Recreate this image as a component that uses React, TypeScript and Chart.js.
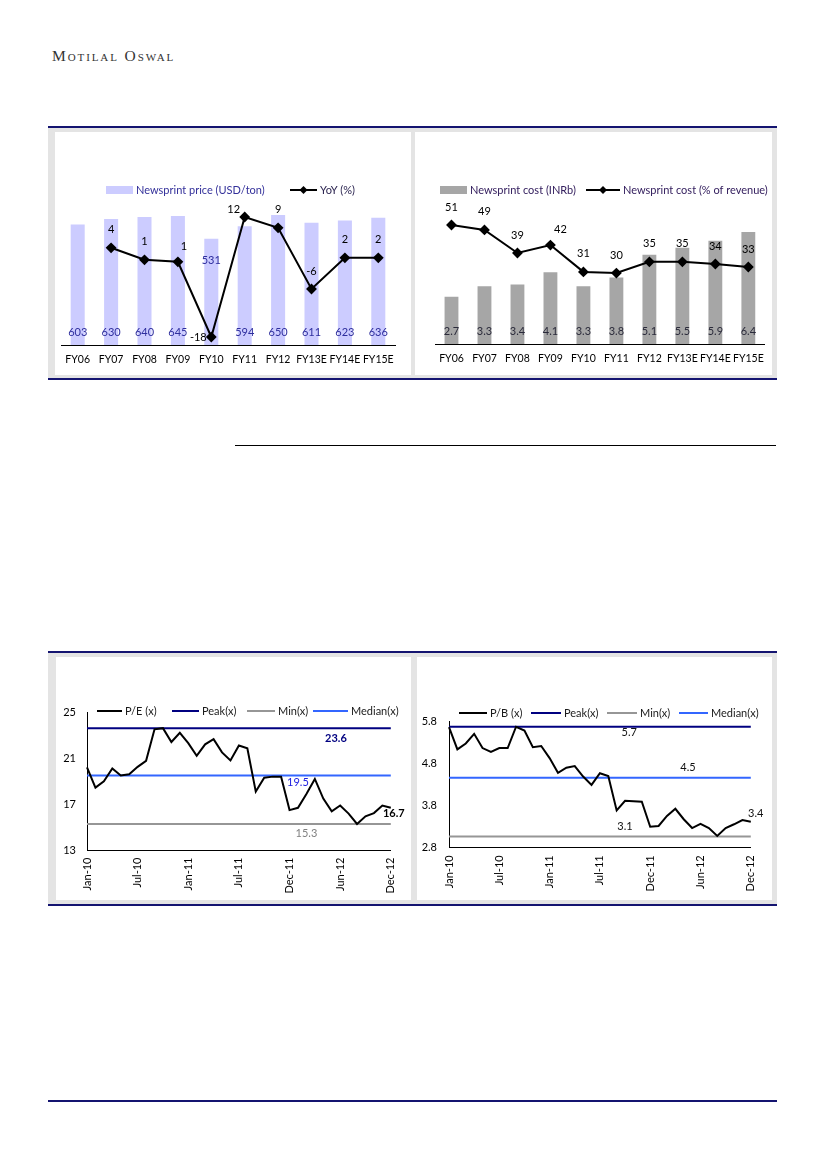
import React, { useEffect, useRef } from 'react';
import { Chart, registerables } from 'chart.js';

Chart.register(...registerables);

const FONT = 'Lato, "Open Sans", "DejaVu Sans", sans-serif';

// ---------------- Chart 1: Newsprint price ----------------
const fyCategories = ['FY06', 'FY07', 'FY08', 'FY09', 'FY10', 'FY11', 'FY12', 'FY13E', 'FY14E', 'FY15E'];
const newsprintPriceUSD = [603, 630, 640, 645, 531, 594, 650, 611, 623, 636];
const newsprintPriceYoY = [null, 4.3, 1.3, 0.8, -18, 12, 9.3, -6, 1.8, 1.8];

// ---------------- Chart 2: Newsprint cost ----------------
const newsprintCostINRb = [2.7, 3.3, 3.4, 4.1, 3.3, 3.8, 5.1, 5.5, 5.9, 6.4];
const newsprintCostPct = [51, 48.9, 39, 42.4, 30.9, 30.4, 35.2, 35.2, 34.3, 33];

// ---------------- Chart 3/4: valuation bands ----------------
const monthLabels = [
  'Jan-10', 'Feb-10', 'Mar-10', 'Apr-10', 'May-10', 'Jun-10', 'Jul-10', 'Aug-10', 'Sep-10', 'Oct-10', 'Nov-10', 'Dec-10',
  'Jan-11', 'Feb-11', 'Mar-11', 'Apr-11', 'May-11', 'Jun-11', 'Jul-11', 'Aug-11', 'Sep-11', 'Oct-11', 'Nov-11', 'Nov-11',
  'Dec-11', 'Jan-12', 'Feb-12', 'Mar-12', 'Apr-12', 'May-12', 'Jun-12', 'Jul-12', 'Aug-12', 'Sep-12', 'Oct-12', 'Nov-12',
  'Dec-12',
];
const peValues = [
  20.2, 18.45, 19.0, 20.1, 19.5, 19.6, 20.25, 20.77, 23.5, 23.6,
  22.4, 23.2, 22.3, 21.2, 22.2, 22.65, 21.5, 20.8, 22.1, 21.85,
  18.1, 19.3, 19.4, 19.4, 16.5, 16.7, 17.9, 19.2, 17.5, 16.4,
  16.9, 16.2, 15.3, 15.96, 16.24, 16.9, 16.7,
];
const PE_PEAK = 23.6;
const PE_MIN = 15.3;
const PE_MEDIAN = 19.5;
const peTicks = [13, 17, 21, 25];

const pbValues = [
  5.67, 5.14, 5.28, 5.51, 5.17, 5.08, 5.17, 5.17, 5.68, 5.59,
  5.19, 5.22, 4.93, 4.58, 4.70, 4.74, 4.49, 4.29, 4.57, 4.50,
  3.68, 3.91, 3.90, 3.89, 3.29, 3.31, 3.55, 3.72, 3.47, 3.26,
  3.36, 3.26, 3.07, 3.26, 3.35, 3.45, 3.41,
];
const PB_PEAK = 5.68;
const PB_MIN = 3.06;
const PB_MEDIAN = 4.46;
const pbTicks = [2.8, 3.8, 4.8, 5.8];

// ---------------- colours ----------------
const NAVY = '#000080';
const GREY_LINE = '#969696';
const BLUE_LINE = '#3366FF';
const RULE = '#141470';

// ---------------- plugins ----------------
type LegendItem = { kind: 'box' | 'line' | 'marker'; color: string; text: string; textColor: string; x: number; w: number };

function legendPlugin(y: number, items: LegendItem[]) {
  return {
    id: 'customLegend',
    afterDraw(chart: any) {
      const ctx = chart.ctx as CanvasRenderingContext2D;
      ctx.save();
      ctx.font = `11px ${FONT}`;
      ctx.textBaseline = 'middle';
      ctx.textAlign = 'left';
      for (const it of items) {
        if (it.kind === 'box') {
          ctx.fillStyle = it.color;
          ctx.fillRect(it.x, y - 4, it.w, 8);
        } else {
          ctx.strokeStyle = it.color;
          ctx.lineWidth = 2;
          ctx.beginPath();
          ctx.moveTo(it.x, y);
          ctx.lineTo(it.x + it.w, y);
          ctx.stroke();
          if (it.kind === 'marker') {
            const cx = it.x + it.w / 2;
            ctx.fillStyle = it.color;
            ctx.beginPath();
            ctx.moveTo(cx, y - 4);
            ctx.lineTo(cx + 4, y);
            ctx.lineTo(cx, y + 4);
            ctx.lineTo(cx - 4, y);
            ctx.closePath();
            ctx.fill();
          }
        }
        ctx.fillStyle = it.textColor;
        ctx.fillText(it.text, it.x + it.w + 3, y);
      }
      ctx.restore();
    },
  };
}

type Nudge = Record<number, [number, number]>;

function comboLabelPlugin(
  barValues: number[],
  lineValues: (number | null)[],
  barColor: string,
  barDigits: number,
  barLift: Record<number, number>,
  lineNudge: Nudge,
) {
  return {
    id: 'comboLabels',
    afterDatasetsDraw(chart: any) {
      const ctx = chart.ctx as CanvasRenderingContext2D;
      const lineMeta = chart.getDatasetMeta(0);
      const barMeta = chart.getDatasetMeta(1);
      const base = chart.scales.y.getPixelForValue(0);
      ctx.save();
      ctx.font = `11px ${FONT}`;
      ctx.textAlign = 'center';
      ctx.textBaseline = 'middle';
      ctx.fillStyle = barColor;
      barMeta.data.forEach((el: any, i: number) => {
        const lift = barLift[i] ?? 13;
        ctx.fillText(barValues[i].toFixed(barDigits), el.x, base - lift);
      });
      ctx.fillStyle = '#000';
      lineMeta.data.forEach((pt: any, i: number) => {
        const v = lineValues[i];
        if (v == null) return;
        const [dx, dy] = lineNudge[i] ?? [0, -18];
        ctx.fillText(v.toFixed(0), pt.x + dx, pt.y + dy);
      });
      ctx.restore();
    },
  };
}

type Note = { value: number; index: number; dx: number; dy: number; color: string; bold: boolean };

function notePlugin(notes: Note[]) {
  return {
    id: 'notes',
    afterDatasetsDraw(chart: any) {
      const ctx = chart.ctx as CanvasRenderingContext2D;
      const xs = chart.scales.x;
      const ys = chart.scales.y;
      ctx.save();
      ctx.textAlign = 'center';
      ctx.textBaseline = 'middle';
      for (const n of notes) {
        ctx.font = `${n.bold ? 'bold ' : ''}11px ${FONT}`;
        ctx.fillStyle = n.color;
        ctx.fillText(n.value.toFixed(1), xs.getPixelForValue(n.index) + n.dx, ys.getPixelForValue(n.value) + n.dy);
      }
      ctx.restore();
    },
  };
}

// ---------------- configs ----------------
function fyAxis(height: number) {
  return {
    grid: { display: false, drawTicks: false },
    border: { display: true, color: '#000', width: 1 },
    ticks: { color: '#000', font: { family: FONT, size: 10.5 }, padding: 8, autoSkip: false, maxRotation: 0 },
    afterFit: (s: any) => {
      s.height = height;
    },
  };
}

function priceConfig(): any {
  return {
    type: 'bar',
    data: {
      labels: fyCategories,
      datasets: [
        {
          type: 'line', label: 'YoY (%)', data: newsprintPriceYoY, yAxisID: 'y2',
          borderColor: '#000', borderWidth: 2, pointStyle: 'rectRot', pointRadius: 4,
          pointBackgroundColor: '#000', pointBorderColor: '#000', order: 0,
        },
        {
          type: 'bar', label: 'Newsprint price (USD/ton)', data: newsprintPriceUSD, yAxisID: 'y',
          backgroundColor: '#CCCCFF', barPercentage: 0.42, categoryPercentage: 1, order: 1,
        },
      ],
    },
    options: {
      responsive: false, animation: false, devicePixelRatio: 1,
      layout: { padding: { left: 6, right: 16, top: 73, bottom: 0 } },
      plugins: { legend: { display: false }, tooltip: { enabled: false } },
      scales: {
        x: fyAxis(30),
        y: { display: false, min: 0, max: 700 },
        y2: { display: false, min: -20, max: 15 },
      },
    },
    plugins: [
      legendPlugin(58, [
        { kind: 'box', color: '#CCCCFF', text: 'Newsprint price (USD/ton)', textColor: '#33309A', x: 51, w: 27 },
        { kind: 'marker', color: '#000', text: 'YoY (%)', textColor: '#2b2450', x: 235, w: 27 },
      ]),
      comboLabelPlugin(newsprintPriceUSD, newsprintPriceYoY, '#2E2E9E', 0, { 4: 85 }, { 3: [6, -15], 4: [-13, 0], 5: [-11, -8] }),
    ],
  };
}

function costConfig(): any {
  return {
    type: 'bar',
    data: {
      labels: fyCategories,
      datasets: [
        {
          type: 'line', label: 'Newsprint cost (% of revenue)', data: newsprintCostPct, yAxisID: 'y2',
          borderColor: '#000', borderWidth: 2, pointStyle: 'rectRot', pointRadius: 4,
          pointBackgroundColor: '#000', pointBorderColor: '#000', order: 0,
        },
        {
          type: 'bar', label: 'Newsprint cost (INRb)', data: newsprintCostINRb, yAxisID: 'y',
          backgroundColor: '#A6A6A6', barPercentage: 0.42, categoryPercentage: 1, order: 1,
        },
      ],
    },
    options: {
      responsive: false, animation: false, devicePixelRatio: 1,
      layout: { padding: { left: 20, right: 3, top: 72, bottom: 0 } },
      plugins: { legend: { display: false }, tooltip: { enabled: false } },
      scales: {
        x: fyAxis(31),
        y: { display: false, min: 0, max: 8 },
        y2: { display: false, min: 0, max: 60 },
      },
    },
    plugins: [
      legendPlugin(58, [
        { kind: 'box', color: '#A6A6A6', text: 'Newsprint cost (INRb)', textColor: '#35205f', x: 25, w: 27 },
        { kind: 'marker', color: '#000', text: 'Newsprint cost (% of revenue)', textColor: '#35205f', x: 171, w: 34 },
      ]),
      comboLabelPlugin(newsprintCostINRb, newsprintCostPct, '#2a2a3a', 1, {}, { 3: [10, -16] }),
    ],
  };
}

function bandLine(label: string, value: number, color: string) {
  return {
    label,
    data: [
      { x: monthLabels[0], y: value },
      { x: monthLabels[monthLabels.length - 1], y: value },
    ],
    borderColor: color,
    backgroundColor: color,
    borderWidth: 2,
    pointRadius: 0,
    order: 1,
  };
}

function bandConfig(opts: {
  name: string; values: number[]; peak: number; min: number; median: number; ticks: number[];
  padding: any; yWidth: number; xHeight: number; tickPad: number; xPad: number;
  legendY: number; legendXs: [number, number][]; notes: Note[];
}): any {
  const t = opts.ticks;
  return {
    type: 'line',
    data: {
      labels: monthLabels,
      datasets: [
        { label: opts.name, data: opts.values, borderColor: '#000', backgroundColor: '#000', borderWidth: 2, pointRadius: 0, order: 0 },
        bandLine('Peak(x)', opts.peak, NAVY),
        bandLine('Min(x)', opts.min, GREY_LINE),
        bandLine('Median(x)', opts.median, BLUE_LINE),
      ],
    },
    options: {
      responsive: false, animation: false, devicePixelRatio: 1,
      layout: { padding: opts.padding },
      plugins: { legend: { display: false }, tooltip: { enabled: false } },
      scales: {
        x: {
          grid: { display: false, drawTicks: false },
          border: { display: true, color: '#000', width: 1 },
          ticks: {
            autoSkip: false, maxRotation: 90, minRotation: 90, padding: opts.xPad,
            color: '#000', font: { family: FONT, size: 11 },
            callback: (_v: any, i: number) => (i % 6 === 0 ? monthLabels[i] : null),
          },
          afterFit: (s: any) => {
            s.height = opts.xHeight;
          },
        },
        y: {
          min: t[0], max: t[t.length - 1],
          grid: { display: false, drawTicks: false },
          border: { display: true, color: '#000', width: 1 },
          ticks: {
            stepSize: t[1] - t[0], padding: opts.tickPad, color: '#000', font: { family: FONT, size: 11 },
            callback: (v: any) => {
              const n = Number(v);
              return Number.isInteger(t[0]) ? n.toFixed(0) : n.toFixed(1);
            },
          },
          afterFit: (s: any) => {
            s.width = opts.yWidth;
          },
        },
      },
    },
    plugins: [
      legendPlugin(opts.legendY, [
        { kind: 'line', color: '#000', text: opts.name, textColor: '#1a1a1a', x: opts.legendXs[0][0], w: opts.legendXs[0][1] },
        { kind: 'line', color: NAVY, text: 'Peak(x)', textColor: '#1a1a1a', x: opts.legendXs[1][0], w: opts.legendXs[1][1] },
        { kind: 'line', color: GREY_LINE, text: 'Min(x)', textColor: '#1a1a1a', x: opts.legendXs[2][0], w: opts.legendXs[2][1] },
        { kind: 'line', color: BLUE_LINE, text: 'Median(x)', textColor: '#1a1a1a', x: opts.legendXs[3][0], w: opts.legendXs[3][1] },
      ]),
      notePlugin(opts.notes),
    ],
  };
}

function peConfig(): any {
  return bandConfig({
    name: 'P/E (x)', values: peValues, peak: PE_PEAK, min: PE_MIN, median: PE_MEDIAN, ticks: peTicks,
    padding: { left: 0, right: 18, top: 55, bottom: 0 }, yWidth: 31, xHeight: 49.5, tickPad: 11, xPad: 7,
    legendY: 54, legendXs: [[41, 25], [116, 27], [191, 28], [257, 35]],
    notes: [
      { value: PE_PEAK, index: 29.5, dx: 0, dy: 10, color: NAVY, bold: true },
      { value: PE_MEDIAN, index: 25, dx: 0, dy: 7, color: '#2020E0', bold: false },
      { value: PE_MIN, index: 26, dx: 0, dy: 9, color: '#808080', bold: false },
      { value: peValues[peValues.length - 1], index: peValues.length - 1, dx: 3, dy: 6, color: '#000', bold: true },
    ],
  });
}

function pbConfig(): any {
  return bandConfig({
    name: 'P/B (x)', values: pbValues, peak: PB_PEAK, min: PB_MIN, median: PB_MEDIAN, ticks: pbTicks,
    padding: { left: 0, right: 20, top: 64.7, bottom: 0 }, yWidth: 32, xHeight: 52.7, tickPad: 12, xPad: 8,
    legendY: 56, legendXs: [[42, 28], [114, 30], [190, 30], [262, 29]],
    notes: [
      { value: PB_PEAK, index: 21.5, dx: 0, dy: 6, color: '#111', bold: false },
      { value: PB_MEDIAN, index: 28.5, dx: 0, dy: -10, color: '#111', bold: false },
      { value: PB_MIN, index: 21, dx: 0, dy: -10, color: '#111', bold: false },
      { value: pbValues[pbValues.length - 1], index: pbValues.length - 1, dx: 5, dy: -8, color: '#111', bold: false },
    ],
  });
}

// ---------------- components ----------------
function ChartCanvas({ left, top, width, height, build }: { left: number; top: number; width: number; height: number; build: () => any }) {
  const ref = useRef<HTMLCanvasElement>(null);
  useEffect(() => {
    if (!ref.current) return;
    const chart = new Chart(ref.current, build());
    return () => chart.destroy();
  }, []);
  return (
    <canvas
      ref={ref}
      width={width}
      height={height}
      style={{ position: 'absolute', left, top, width, height, display: 'block' }}
    />
  );
}

function Rect({ l, t, w, h, c }: { l: number; t: number; w: number; h: number; c: string }) {
  return <div style={{ position: 'absolute', left: l, top: t, width: w, height: h, background: c }} />;
}

export default function App() {
  return (
    <div style={{ position: 'absolute', left: 0, top: 0, width: 826, height: 1169, background: '#fff', overflow: 'hidden' }}>
      <div
        style={{
          position: 'absolute', left: 52, top: 48, fontFamily: '"Liberation Serif", "DejaVu Serif", serif',
          fontVariant: 'small-caps', fontSize: 15.5, letterSpacing: 1.9, color: '#333', lineHeight: '16px', whiteSpace: 'nowrap',
        }}
      >
        Motilal Oswal
      </div>

      {/* top panel */}
      <Rect l={48} t={126} w={729} h={2} c={RULE} />
      <Rect l={48} t={128} w={729} h={250} c="#E4E4E4" />
      <Rect l={55} t={132} w={356} h={243} c="#fff" />
      <Rect l={415} t={132} w={357} h={243} c="#fff" />
      <Rect l={48} t={378} w={729} h={2} c={RULE} />
      <ChartCanvas left={55} top={132} width={356} height={243} build={priceConfig} />
      <ChartCanvas left={415} top={132} width={357} height={243} build={costConfig} />

      <Rect l={235} t={445} w={541} h={1} c="#000" />

      {/* bottom panel */}
      <Rect l={48} t={651} w={729} h={2} c={RULE} />
      <Rect l={48} t={653} w={729} h={251} c="#E4E4E4" />
      <Rect l={56} t={657} w={355} h={243} c="#fff" />
      <Rect l={417} t={657} w={355} h={243} c="#fff" />
      <Rect l={48} t={904} w={729} h={2} c={RULE} />
      <ChartCanvas left={56} top={657} width={355} height={243} build={peConfig} />
      <ChartCanvas left={417} top={657} width={355} height={243} build={pbConfig} />

      <Rect l={48} t={1100} w={729} h={2} c={RULE} />
    </div>
  );
}
